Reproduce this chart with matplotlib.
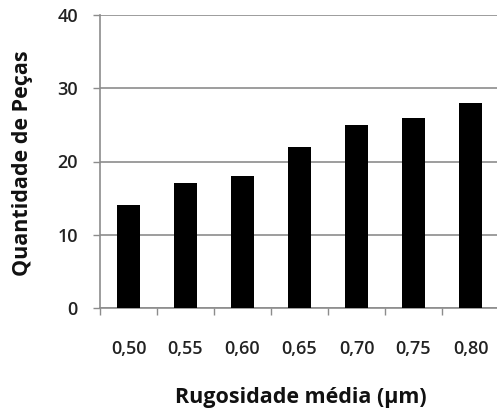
import matplotlib
matplotlib.use("Agg")
import matplotlib.pyplot as plt
import numpy as np

categories = ["0,50", "0,55", "0,60", "0,65", "0,70", "0,75", "0,80"]
quantities = [14, 17, 18, 22, 25, 26, 28]
y_ticks = [0, 10, 20, 30, 40]

plt.rcParams["font.family"] = ["Open Sans", "DejaVu Sans"]

W, H = 497, 412
fig = plt.figure(figsize=(W / 100, H / 100), dpi=100)
ax = fig.add_axes([100 / W, 104 / H, 399 / W, 293 / H])

x = np.arange(len(categories))
ax.bar(x, quantities, width=0.4, color="black", zorder=3)

grid_c = "#8c8c8c"
ax.set_xlim(-0.5, len(categories) - 0.5)
ax.set_ylim(0, 40)
ax.set_yticks(y_ticks)
ax.yaxis.grid(True, color=grid_c, linewidth=1.2, zorder=0)

ax.set_xticks(x)
ax.set_xticklabels(categories, fontweight="semibold")
ax.set_xticks(np.arange(-0.5, len(categories), 1.0), minor=True)
ax.tick_params(axis="x", which="major", length=0, pad=23, labelsize=13, labelcolor="#222222")
ax.tick_params(axis="x", which="minor", length=5, color=grid_c, width=1)
ax.tick_params(axis="y", length=5, color=grid_c, width=1, pad=11, labelsize=13, labelcolor="#222222")
for lbl in ax.get_yticklabels():
    lbl.set_fontweight("semibold")

for s in ("top", "right"):
    ax.spines[s].set_visible(False)
for s in ("left", "bottom"):
    ax.spines[s].set_color(grid_c)
    ax.spines[s].set_linewidth(1.2)

# axis titles, centred on fixed positions relative to the plot area
ax.set_xlabel("Rugosidade média (µm)", fontsize=15.5, fontweight="bold", color="#111111", va="center")
ax.xaxis.set_label_coords(0.504, -0.304)
ax.set_ylabel("Quantidade de Peças", fontsize=15.5, fontweight="bold", color="#111111", va="center")
ax.yaxis.set_label_coords(-0.195, 0.495)

fig.savefig("out.png", dpi=100, facecolor="white")
